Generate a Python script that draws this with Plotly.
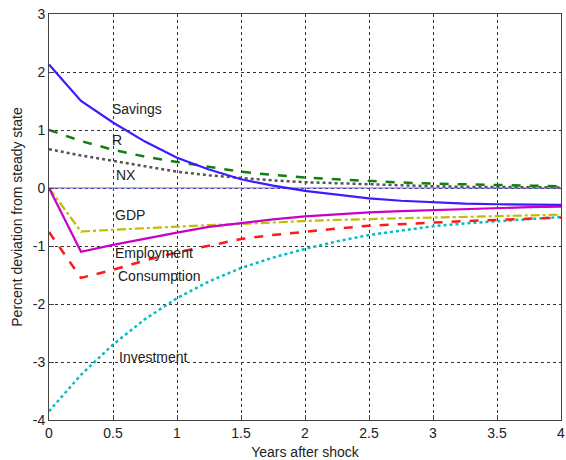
import plotly.graph_objects as go

years = [0, 0.25, 0.5, 0.75, 1.0, 1.25, 1.5, 1.75, 2.0, 2.25, 2.5, 2.75, 3.0, 3.25, 3.5, 3.75, 4.0]

savings = [2.13, 1.50, 1.13, 0.80, 0.52, 0.32, 0.15, 0.04, -0.05, -0.12, -0.18, -0.22, -0.25, -0.27, -0.28, -0.29, -0.29]
r_rate = [1.00, 0.81, 0.66, 0.54, 0.45, 0.36, 0.28, 0.225, 0.18, 0.15, 0.12, 0.095, 0.075, 0.06, 0.05, 0.04, 0.03]
nx = [0.67, 0.56, 0.47, 0.37, 0.28, 0.22, 0.17, 0.13, 0.10, 0.08, 0.06, 0.045, 0.03, 0.02, 0.015, 0.01, 0.01]
gdp = [0, -0.75, -0.72, -0.69, -0.66, -0.64, -0.62, -0.59, -0.57, -0.55, -0.53, -0.52, -0.51, -0.50, -0.49, -0.475, -0.46]
employment = [0, -1.10, -0.98, -0.87, -0.77, -0.67, -0.60, -0.54, -0.49, -0.45, -0.42, -0.40, -0.38, -0.36, -0.345, -0.33, -0.32]
consumption = [-0.76, -1.55, -1.41, -1.25, -1.11, -0.99, -0.88, -0.81, -0.75, -0.70, -0.65, -0.62, -0.60, -0.57, -0.55, -0.53, -0.51]
investment = [-3.85, -3.22, -2.70, -2.26, -1.90, -1.61, -1.38, -1.20, -1.05, -0.92, -0.81, -0.73, -0.66, -0.61, -0.57, -0.53, -0.50]

x_ticks = [0, 0.5, 1, 1.5, 2, 2.5, 3, 3.5, 4]
x_tick_labels = ["0", "0.5", "1", "1.5", "2", "2.5", "3", "3.5", "4"]
y_ticks = [-4, -3, -2, -1, 0, 1, 2, 3]
y_tick_labels = ["-4", "-3", "-2", "-1", "0", "1", "2", "3"]

labels = ["Savings", "R", "NX", "GDP", "Employment", "Consumption", "Investment"]
label_x = [0.48, 0.48, 0.51, 0.5, 0.5, 0.52, 0.53]
label_y = [1.36, 0.83, 0.23, -0.47, -1.12, -1.52, -2.92]

FONT = "Liberation Sans, Arial, Helvetica, sans-serif"
TXT = "#222222"

fig = go.Figure()

fig.add_trace(go.Scatter(x=[years[0], years[-1]], y=[0, 0], mode="lines",
                         line=dict(color="#6b5cf5", width=1), showlegend=False, hoverinfo="skip"))

series = [
    (investment, "#00bfbf", "dot", 2.5),
    (consumption, "#ff1a1a", "dash", 2.5),
    (gdp, "#bfbf00", "dashdot", 2.2),
    (employment, "#c800c8", "solid", 2.2),
    (nx, "#555555", "dot", 2.5),
    (r_rate, "#108010", "dash", 2.5),
    (savings, "#3c1cff", "solid", 2.2),
]
for vals, col, dash, w in series:
    fig.add_trace(go.Scatter(x=years, y=vals, mode="lines",
                             line=dict(color=col, dash=dash, width=w), showlegend=False))

for t, xx, yy in zip(labels, label_x, label_y):
    fig.add_annotation(x=xx, y=yy, text=t, showarrow=False, xanchor="left", yanchor="middle",
                       font=dict(family=FONT, size=14, color=TXT))

axis_common = dict(showline=True, mirror=True, linecolor="#444444", linewidth=1,
                   showgrid=True, gridcolor="#333333", griddash="dot", gridwidth=1,
                   ticks="inside", ticklen=5, tickcolor="#444444", zeroline=False,
                   automargin=False,
                   tickfont=dict(family=FONT, size=14, color=TXT))

fig.update_xaxes(range=[0, 4], tickvals=x_ticks, ticktext=x_tick_labels,
                 title=dict(text="Years after shock", font=dict(family=FONT, size=14, color=TXT), standoff=8),
                 **axis_common)
fig.update_yaxes(range=[-4, 3], tickvals=y_ticks, ticktext=y_tick_labels,
                 title=dict(text="Percent deviation from steady state", font=dict(family=FONT, size=14, color=TXT), standoff=6),
                 **axis_common)

fig.update_layout(width=566, height=460, margin=dict(l=49, r=5, t=14, b=40),
                  plot_bgcolor="white", paper_bgcolor="white", showlegend=False)

fig.write_html("out.html", config={"displayModeBar": False},
               post_script="document.body.style.margin='0';")
